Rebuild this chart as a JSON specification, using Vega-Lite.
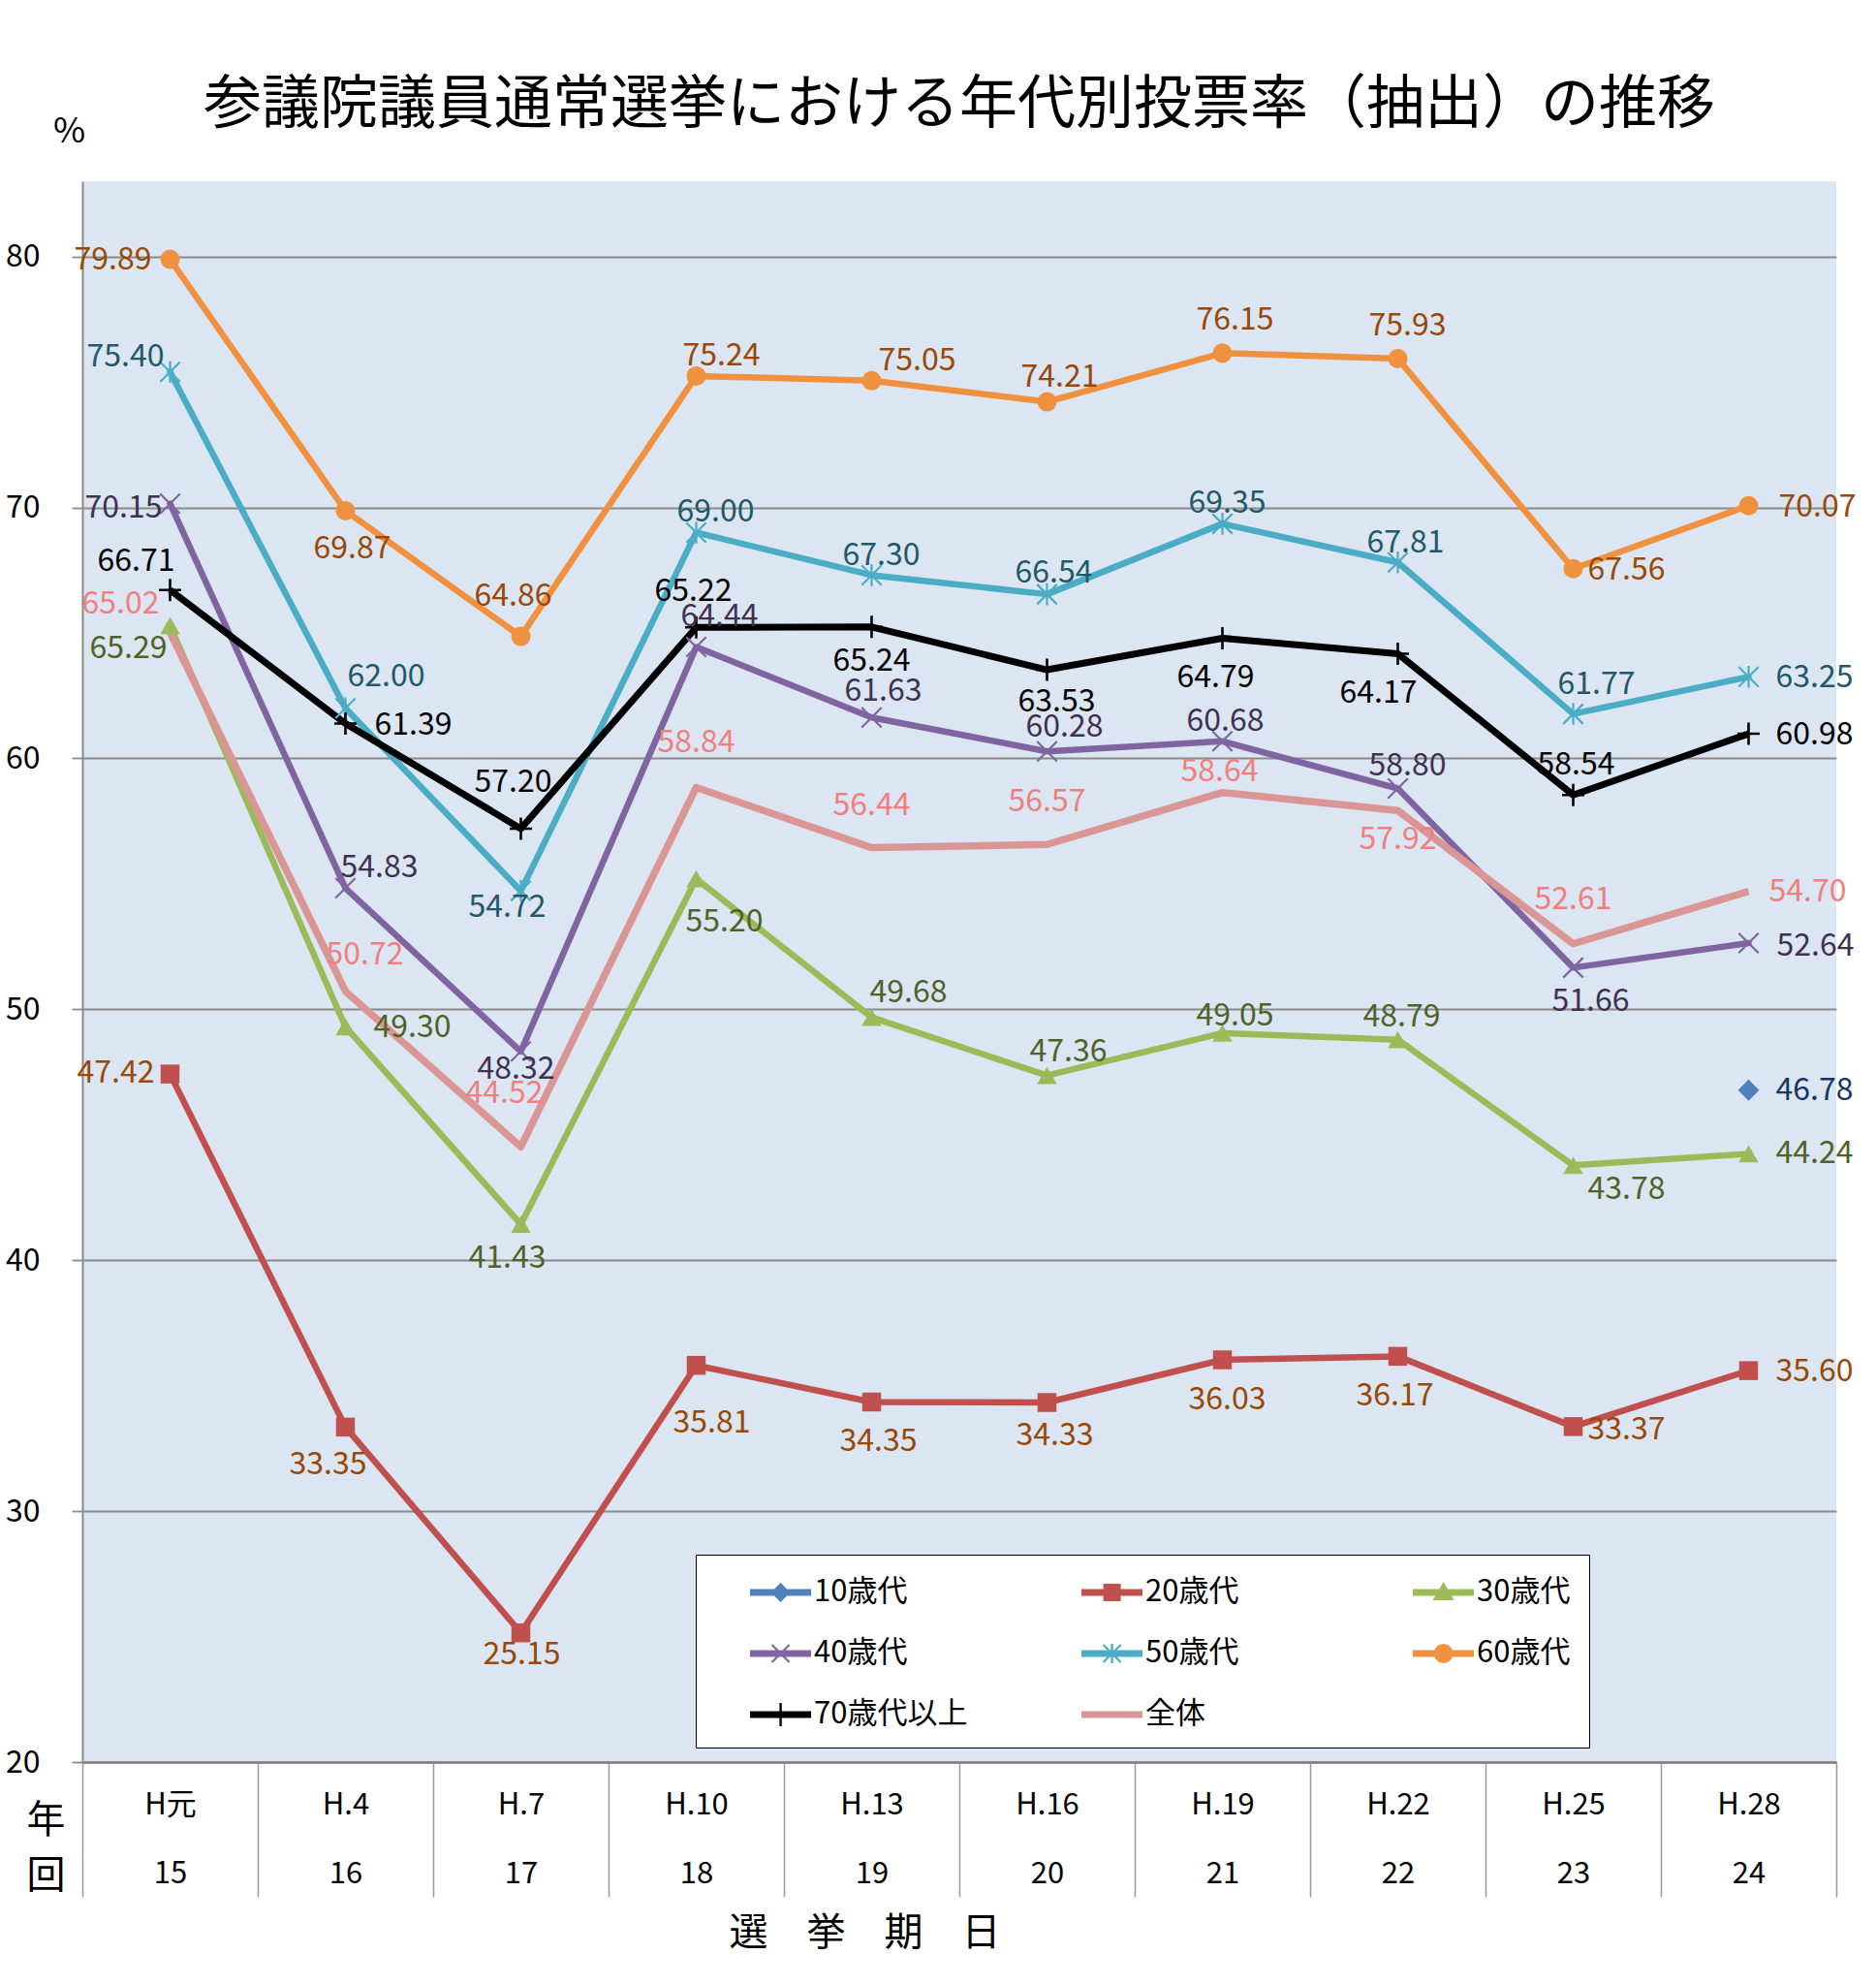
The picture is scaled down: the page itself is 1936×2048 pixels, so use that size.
{
  "$schema": "https://vega.github.io/schema/vega-lite/v6.json",
  "width": 1810,
  "height": 1631,
  "autosize": {"type": "none"},
  "padding": {"left": 85, "top": 187, "right": 41, "bottom": 230},
  "background": "white",
  "config": {"font": "Noto Sans CJK JP", "view": {"fill": "#DCE6F2", "stroke": null}},
  "title": {"text": "参議院議員通常選挙における年代別投票率（抽出）の推移", "fontSize": 60, "font": "Noto Sans CJK JP", "fontWeight": "normal", "color": "black", "anchor": "middle", "offset": -23},
  "params": [
    {"name": "serList", "value": ["10歳代","20歳代","30歳代","40歳代","50歳代","60歳代","70歳代以上","全体"]},
    {"name": "elecList", "value": ["H元 15","H.4 16","H.7 17","H.10 18","H.13 19","H.16 20","H.19 21","H.22 22","H.25 23","H.28 24"]},
    {"name": "offX", "value": [
      [0,0,0,0,0,0,0,0,0,68],
      [-56,-18,1,16,7,8,5,-3,55,68],
      [-43,69,-14,29,38,22,13,4,55,68],
      [-48,35,-5,24,12,18,3,10,18,69],
      [-46,42,-14,20,10,7,5,8,24,68],
      [-59,7,-8,26,47,13,13,10,55,71],
      [-35,70,-8,-3,0,10,-7,-20,3,68],
      [-51,20,-17,0,0,0,-3,0,0,61]
    ]},
    {"name": "offY", "value": [
      [0,0,0,0,0,0,0,0,0,0],
      [-1,39,22,59,41,34,41,41,3,1],
      [24,1,35,44,-26,-25,-18,-24,25,0],
      [4,-21,18,-31,-27,-25,-21,-24,35,3],
      [-16,-33,17,-21,-20,-22,-21,-20,-31,1],
      [0,39,-42,-21,-21,-26,-34,-34,1,1],
      [-30,2,-48,-37,35,33,41,41,-31,1],
      [-29,-38,-55,-46,-44,-44,-22,30,-46,0]
    ]}
  ],
  "data": {"values": [
    {"series":"20歳代","election":"H元 15","value":47.42},
    {"series":"20歳代","election":"H.4 16","value":33.35},
    {"series":"20歳代","election":"H.7 17","value":25.15},
    {"series":"20歳代","election":"H.10 18","value":35.81},
    {"series":"20歳代","election":"H.13 19","value":34.35},
    {"series":"20歳代","election":"H.16 20","value":34.33},
    {"series":"20歳代","election":"H.19 21","value":36.03},
    {"series":"20歳代","election":"H.22 22","value":36.17},
    {"series":"20歳代","election":"H.25 23","value":33.37},
    {"series":"20歳代","election":"H.28 24","value":35.60},
    {"series":"30歳代","election":"H元 15","value":65.29},
    {"series":"30歳代","election":"H.4 16","value":49.30},
    {"series":"30歳代","election":"H.7 17","value":41.43},
    {"series":"30歳代","election":"H.10 18","value":55.20},
    {"series":"30歳代","election":"H.13 19","value":49.68},
    {"series":"30歳代","election":"H.16 20","value":47.36},
    {"series":"30歳代","election":"H.19 21","value":49.05},
    {"series":"30歳代","election":"H.22 22","value":48.79},
    {"series":"30歳代","election":"H.25 23","value":43.78},
    {"series":"30歳代","election":"H.28 24","value":44.24},
    {"series":"40歳代","election":"H元 15","value":70.15},
    {"series":"40歳代","election":"H.4 16","value":54.83},
    {"series":"40歳代","election":"H.7 17","value":48.32},
    {"series":"40歳代","election":"H.10 18","value":64.44},
    {"series":"40歳代","election":"H.13 19","value":61.63},
    {"series":"40歳代","election":"H.16 20","value":60.28},
    {"series":"40歳代","election":"H.19 21","value":60.68},
    {"series":"40歳代","election":"H.22 22","value":58.80},
    {"series":"40歳代","election":"H.25 23","value":51.66},
    {"series":"40歳代","election":"H.28 24","value":52.64},
    {"series":"50歳代","election":"H元 15","value":75.40},
    {"series":"50歳代","election":"H.4 16","value":62.00},
    {"series":"50歳代","election":"H.7 17","value":54.72},
    {"series":"50歳代","election":"H.10 18","value":69.00},
    {"series":"50歳代","election":"H.13 19","value":67.30},
    {"series":"50歳代","election":"H.16 20","value":66.54},
    {"series":"50歳代","election":"H.19 21","value":69.35},
    {"series":"50歳代","election":"H.22 22","value":67.81},
    {"series":"50歳代","election":"H.25 23","value":61.77},
    {"series":"50歳代","election":"H.28 24","value":63.25},
    {"series":"60歳代","election":"H元 15","value":79.89},
    {"series":"60歳代","election":"H.4 16","value":69.87},
    {"series":"60歳代","election":"H.7 17","value":64.86},
    {"series":"60歳代","election":"H.10 18","value":75.24},
    {"series":"60歳代","election":"H.13 19","value":75.05},
    {"series":"60歳代","election":"H.16 20","value":74.21},
    {"series":"60歳代","election":"H.19 21","value":76.15},
    {"series":"60歳代","election":"H.22 22","value":75.93},
    {"series":"60歳代","election":"H.25 23","value":67.56},
    {"series":"60歳代","election":"H.28 24","value":70.07},
    {"series":"70歳代以上","election":"H元 15","value":66.71},
    {"series":"70歳代以上","election":"H.4 16","value":61.39},
    {"series":"70歳代以上","election":"H.7 17","value":57.20},
    {"series":"70歳代以上","election":"H.10 18","value":65.22},
    {"series":"70歳代以上","election":"H.13 19","value":65.24},
    {"series":"70歳代以上","election":"H.16 20","value":63.53},
    {"series":"70歳代以上","election":"H.19 21","value":64.79},
    {"series":"70歳代以上","election":"H.22 22","value":64.17},
    {"series":"70歳代以上","election":"H.25 23","value":58.54},
    {"series":"70歳代以上","election":"H.28 24","value":60.98},
    {"series":"全体","election":"H元 15","value":65.02},
    {"series":"全体","election":"H.4 16","value":50.72},
    {"series":"全体","election":"H.7 17","value":44.52},
    {"series":"全体","election":"H.10 18","value":58.84},
    {"series":"全体","election":"H.13 19","value":56.44},
    {"series":"全体","election":"H.16 20","value":56.57},
    {"series":"全体","election":"H.19 21","value":58.64},
    {"series":"全体","election":"H.22 22","value":57.92},
    {"series":"全体","election":"H.25 23","value":52.61},
    {"series":"全体","election":"H.28 24","value":54.70},
    {"series":"10歳代","election":"H.28 24","value":46.78}
  ]},
  "encoding": {
    "x": {"field": "election", "type": "ordinal",
      "scale": {"type": "band", "domain": ["H元 15","H.4 16","H.7 17","H.10 18","H.13 19","H.16 20","H.19 21","H.22 22","H.25 23","H.28 24"], "paddingInner": 0, "paddingOuter": 0},
      "axis": {"orient": "bottom", "title": "選　挙　期　日", "titleX": 807, "titleY": 176, "titleAlign": "center", "titleBaseline": "middle", "titleFontSize": 40, "titleFontWeight": "normal", "titleColor": "black", "titleFont": "Noto Sans CJK JP",
        "labelExpr": "split(datum.label, ' ')", "labelAngle": 0, "labelFontSize": 31, "labelLineHeight": 71, "labelBaseline": "top", "labelPadding": -110, "labelColor": "black", "labelFont": "Noto Sans CJK JP",
        "tickBand": "extent", "tickSize": 139, "tickColor": "#9a9a9a", "tickWidth": 1.5, "domainColor": "#808080", "domainWidth": 2.5, "grid": false}},
    "y": {"field": "value", "type": "quantitative",
      "scale": {"domain": [20, 83], "nice": false, "zero": false},
      "axis": {"values": [20,30,40,50,60,70,80,83], "grid": true,
        "gridColor": "#8a8a8a", "gridWidth": 1.8,
        "gridOpacity": {"condition": {"test": "datum.value > 81", "value": 0}, "value": 1},
        "tickSize": {"condition": {"test": "datum.value > 81", "value": 0}, "value": 11},
        "tickColor": "#8a8a8a", "tickWidth": 1.8, "domainColor": "#8a8a8a", "domainWidth": 2,
        "labelExpr": "datum.value > 81 ? '%' : datum.label",
        "labelFontSize": {"condition": {"test": "datum.value > 81", "value": 36}, "value": 32},
        "labelPadding": {"condition": {"test": "datum.value > 81", "value": 14}, "value": 33},
        "labelAlign": {"condition": {"test": "datum.value > 81", "value": "center"}, "value": "right"},
        "labelOffset": {"condition": {"test": "datum.value > 81", "value": -52}, "value": 0},
        "labelColor": "black", "labelFont": "Noto Sans CJK JP",
        "title": ["年", "回"], "titleAngle": 0, "titleX": -38, "titleY": 1671, "titleAlign": "center", "titleBaseline": "top", "titleLineHeight": 57, "titleFontSize": 40, "titleFontWeight": "normal", "titleColor": "black", "titleFont": "Noto Sans CJK JP"}}
  },
  "layer": [
    {
      "transform": [{"filter": "indexof(['70歳代以上','全体'], datum.series) < 0"}],
      "mark": {"type": "line", "strokeWidth": 6.5, "strokeJoin": "round", "strokeCap": "round"},
      "encoding": {
        "stroke": {"field": "series", "type": "nominal",
          "scale": {"domain": ["全体","70歳代以上","60歳代","50歳代","40歳代","30歳代","20歳代","10歳代"], "range": ["#D99694","#000000","#F0913F","#4BACC6","#8064A2","#9BBB59","#C0504D","#4F81BD"]},
          "legend": null}
      }
    },
    {
      "transform": [{"filter": "datum.series === '70歳代以上'"}],
      "mark": {"type": "line", "strokeWidth": 7, "strokeJoin": "round"},
      "encoding": {"stroke": {"field": "series", "type": "nominal", "legend": null}}
    },
    {
      "transform": [{"filter": "datum.series === '全体'"}],
      "mark": {"type": "line", "strokeWidth": 7.5, "strokeJoin": "round"},
      "encoding": {"stroke": {"field": "series", "type": "nominal", "legend": null}}
    },
    {
      "transform": [{"filter": "datum.series === '10歳代'"}],
      "mark": {"type": "point", "shape": "diamond", "filled": true, "size": 480, "opacity": 1, "color": "#4F81BD"},
      "encoding": {}
    },
    {
      "transform": [{"filter": "datum.series === '20歳代'"}],
      "mark": {"type": "point", "shape": "square", "filled": true, "size": 380, "opacity": 1, "color": "#C0504D"},
      "encoding": {}
    },
    {
      "transform": [{"filter": "datum.series === '30歳代'"}],
      "mark": {"type": "point", "shape": "triangle-up", "filled": true, "size": 420, "opacity": 1, "color": "#9BBB59"},
      "encoding": {}
    },
    {
      "transform": [{"filter": "datum.series === '40歳代'"}],
      "mark": {"type": "point", "shape": "M-1,-1L1,1M-1,1L1,-1", "filled": false, "size": 420, "strokeWidth": 2.2, "opacity": 1, "color": "#8064A2"},
      "encoding": {}
    },
    {
      "transform": [{"filter": "datum.series === '50歳代'"}],
      "mark": {"type": "point", "shape": "M-1,-1L1,1M-1,1L1,-1M0,-1.1L0,1.1", "filled": false, "size": 420, "strokeWidth": 2.2, "opacity": 1, "color": "#4BACC6"},
      "encoding": {}
    },
    {
      "transform": [{"filter": "datum.series === '60歳代'"}],
      "mark": {"type": "point", "shape": "circle", "filled": true, "size": 400, "opacity": 1, "color": "#F0913F"},
      "encoding": {}
    },
    {
      "transform": [{"filter": "datum.series === '70歳代以上'"}],
      "mark": {"type": "point", "shape": "M-1,0L1,0M0,-1L0,1", "filled": false, "size": 530, "strokeWidth": 2.6, "opacity": 1, "color": "#000000"},
      "encoding": {}
    },
    {
      "mark": {"type": "text", "font": "Noto Sans CJK JP", "fontSize": 32, "align": "center", "baseline": "middle",
        "dx": {"expr": "offX[indexof(serList, datum.series)][indexof(elecList, datum.election)]"},
        "dy": {"expr": "offY[indexof(serList, datum.series)][indexof(elecList, datum.election)]"}},
      "encoding": {
        "text": {"field": "value", "type": "quantitative", "format": ".2f"},
        "fill": {"field": "series", "type": "nominal",
          "scale": {"domain": ["20歳代","30歳代","40歳代","50歳代","60歳代","70歳代以上","全体","10歳代"], "range": ["#984807","#4F6228","#3F3151","#215968","#984807","#000000","#F07F7F","#17375E"]},
          "legend": null}
      }
    },
    {
      "mark": {"type": "point", "filled": true, "opacity": 0},
      "encoding": {
        "color": {"field": "series", "type": "nominal",
          "scale": {"domain": ["10歳代","20歳代","30歳代","40歳代","50歳代","60歳代","70歳代以上","全体"], "range": ["#4F81BD","#C0504D","#9BBB59","#8064A2","#4BACC6","#F0913F","#000000","#D99694"]},
          "legend": {"orient": "none", "legendX": 633, "legendY": 1417, "direction": "horizontal", "columns": 3, "title": null, "symbolSize": 1600, "symbolStrokeWidth": 0, "symbolOpacity": 1,
            "labelFontSize": 31, "labelFont": "Noto Sans CJK JP", "labelColor": "black", "labelOffset": 63, "labelLimit": 400,
            "rowPadding": 28, "columnPadding": 80, "gridAlign": "all", "padding": 19, "fillColor": "white", "strokeColor": "black"}},
        "shape": {"field": "series", "type": "nominal",
          "scale": {"domain": ["10歳代","20歳代","30歳代","40歳代","50歳代","60歳代","70歳代以上","全体"],
            "range": [
              "M0.85,-0.18H4V0.18H0.85Z M2.43,-0.5L2.93,0L2.43,0.5L1.93,0Z",
              "M0.85,-0.18H4V0.18H0.85Z M1.98,-0.45H2.88V0.45H1.98Z",
              "M0.85,-0.18H4V0.18H0.85Z M2.43,-0.55L2.98,0.4H1.88Z",
              "M0.85,-0.18H4V0.18H0.85Z M1.94,-0.41L2.02,-0.49L2.92,0.41L2.84,0.49Z M2.84,-0.49L2.92,-0.41L2.02,0.49L1.94,0.41Z",
              "M0.85,-0.18H4V0.18H0.85Z M1.94,-0.41L2.02,-0.49L2.92,0.41L2.84,0.49Z M2.84,-0.49L2.92,-0.41L2.02,0.49L1.94,0.41Z M2.37,-0.5H2.49V0.5H2.37Z",
              "M0.85,-0.18H4V0.18H0.85Z M2.93,0L2.863,0.25L2.68,0.433L2.43,0.5L2.18,0.433L1.997,0.25L1.93,0L1.997,-0.25L2.18,-0.433L2.43,-0.5L2.68,-0.433L2.863,-0.25Z",
              "M0.85,-0.18H4V0.18H0.85Z M2.37,-0.6H2.49V0.6H2.37Z",
              "M0.85,-0.18H4V0.18H0.85Z"
            ]},
          "legend": {"orient": "none", "legendX": 633, "legendY": 1417, "direction": "horizontal", "columns": 3, "title": null, "symbolSize": 1600, "symbolStrokeWidth": 0, "symbolOpacity": 1,
            "labelFontSize": 31, "labelFont": "Noto Sans CJK JP", "labelColor": "black", "labelOffset": 63, "labelLimit": 400,
            "rowPadding": 28, "columnPadding": 80, "gridAlign": "all", "padding": 19, "fillColor": "white", "strokeColor": "black"}}
      }
    }
  ]
}
